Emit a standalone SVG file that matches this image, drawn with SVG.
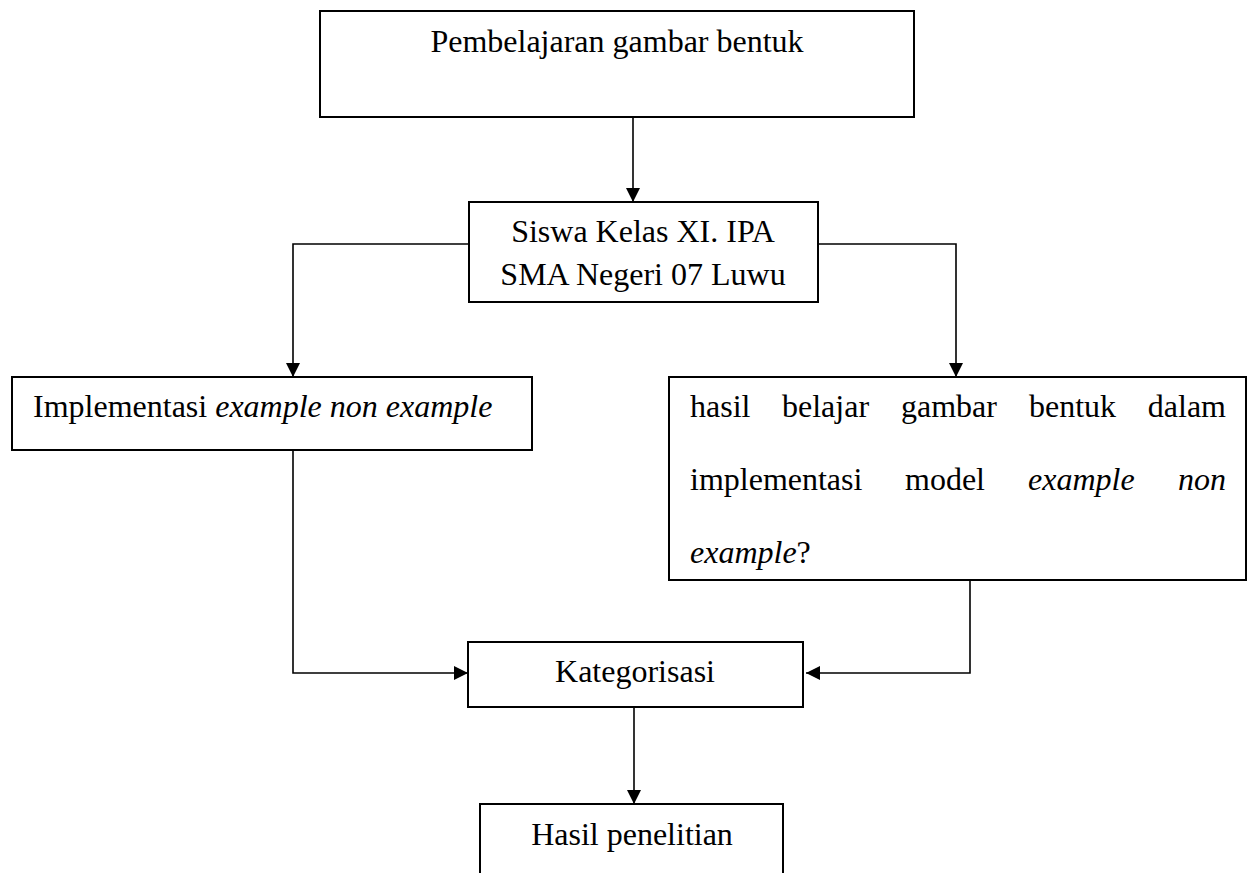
<svg xmlns="http://www.w3.org/2000/svg" width="1248" height="873" viewBox="0 0 1248 873">
<style>
.box{fill:#fff;stroke:#000;stroke-width:2}
.t{font-family:"Liberation Serif","Times New Roman",serif;font-size:32px;fill:#000}
.c{text-anchor:middle}
.i{font-style:italic}
.con{fill:none;stroke:#000;stroke-width:1.6}
</style>
<defs>
<marker id="ah" markerUnits="userSpaceOnUse" markerWidth="16" markerHeight="16" refX="14" refY="7" orient="auto">
<path d="M0,0 L14,7 L0,14 Z" fill="#000"/>
</marker>
</defs>
<rect width="1248" height="873" fill="#fff"/>
<g id="connectors">
<path class="con" d="M633,117 V202" marker-end="url(#ah)"/>
<path class="con" d="M469,244 H293 V377" marker-end="url(#ah)"/>
<path class="con" d="M818,244 H956 V377" marker-end="url(#ah)"/>
<path class="con" d="M293,450 V673 H468" marker-end="url(#ah)"/>
<path class="con" d="M970,580 V673 H806" marker-end="url(#ah)"/>
<path class="con" d="M634,707 V804" marker-end="url(#ah)"/>
</g>
<g id="node-pembelajaran">
<rect class="box" x="320" y="11" width="594" height="106"/>
<text class="t c" x="617" y="52">Pembelajaran gambar bentuk</text>
</g>
<g id="node-siswa">
<rect class="box" x="469" y="202" width="349" height="100"/>
<text class="t c" x="643" y="242">Siswa Kelas XI. IPA</text>
<text class="t c" x="643" y="285">SMA Negeri 07 Luwu</text>
</g>
<g id="node-implementasi">
<rect class="box" x="12" y="377" width="520" height="73"/>
<text class="t" x="33" y="417">Implementasi <tspan class="i">example non example</tspan></text>
</g>
<g id="node-hasil-belajar">
<rect class="box" x="669" y="377" width="577" height="203"/>
<text class="t" x="690" y="417">hasil</text>
<text class="t" x="782" y="417">belajar</text>
<text class="t" x="901" y="417">gambar</text>
<text class="t" x="1029" y="417">bentuk</text>
<text class="t" x="1226" y="417" text-anchor="end">dalam</text>
<text class="t" x="690" y="490">implementasi</text>
<text class="t" x="905" y="490">model</text>
<text class="t i" x="1028" y="490">example</text>
<text class="t i" x="1226" y="490" text-anchor="end">non</text>
<text class="t" x="690" y="563"><tspan class="i">example</tspan>?</text>
</g>
<g id="node-kategorisasi">
<rect class="box" x="468" y="642" width="335" height="65"/>
<text class="t c" x="635" y="682">Kategorisasi</text>
</g>
<g id="node-hasil-penelitian">
<rect class="box" x="480" y="804" width="303" height="100"/>
<text class="t c" x="632" y="845">Hasil penelitian</text>
</g>
</svg>
